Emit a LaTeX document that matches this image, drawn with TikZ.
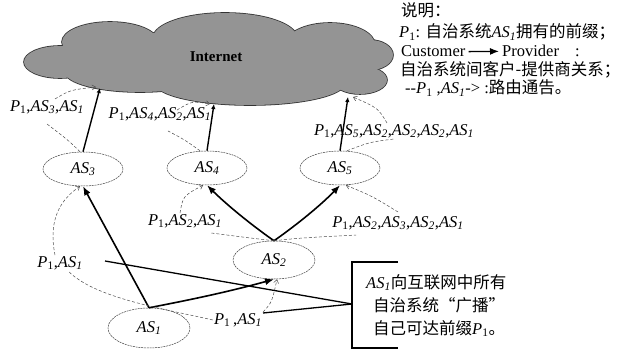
\documentclass[tikz,border=0pt]{standalone}
\usepackage{fontspec}
\setmainfont{Liberation Serif}
\newfontfamily\cjk{Noto Sans CJK SC}
\usetikzlibrary{arrows.meta,shapes.geometric}
\newcommand{\ASx}[1]{\textit{AS}\textsubscript{\textit{#1}}}
\newcommand{\Px}{\textit{P}\textsubscript{1}}
\begin{document}
\begin{tikzpicture}[x=1pt,y=-1pt,
  font=\fontsize{16.5}{19}\selectfont,
  asnode/.style={ellipse, draw=black!75, dash pattern=on 2pt off 0.8pt, line width=0.5pt,
    fill=white, inner sep=0pt, minimum width=80pt, minimum height=34pt},
  rlabel/.style={inner sep=1pt},
  cp/.style={line width=1.6pt, -{Latex[length=9pt,width=7pt]}},
  upar/.style={line width=1.4pt, -{Latex[length=5pt,width=4.5pt]}},
  annp/.style={black!70, line width=0.5pt, dash pattern=on 3pt off 2pt},
  ann/.style={annp, -{Straight Barb[length=3.5pt,width=5pt]}},
  lead/.style={line width=1.3pt},
  legtext/.style={anchor=base west, inner sep=0pt}
]
\useasboundingbox (0,0) rectangle (626,350);

% Internet cloud: union of ellipses, outlined then filled
\def\cloudparts{60/62/36/16, 110/42/48/20, 225/38/72/25, 330/45/45/22, 370/55/23/15,
  360/80/27/14, 250/83/95/22, 140/72/75/20, 220/60/150/30}
\foreach \cx/\cy/\rx/\ry in \cloudparts
  \draw[line width=1.6pt, black!80] (\cx,\cy) ellipse [x radius=\rx pt, y radius=\ry pt];
\foreach \cx/\cy/\rx/\ry in \cloudparts
  \fill[black!42] (\cx,\cy) ellipse [x radius=\rx pt, y radius=\ry pt];
\node[font=\bfseries\fontsize{15}{18}\selectfont] (inet) at (216,57) {Internet};

% cloud attach points
\coordinate (c3) at (100,88);
\coordinate (c4) at (214,104);
\coordinate (c5) at (348,97);
\coordinate (d3) at (96,87);
\coordinate (d4) at (210,104);
\coordinate (d5) at (353,97);

% autonomous systems
\node[asnode] (as3) at (83,169) {\ASx{3}};
\node[asnode] (as4) at (207,168) {\ASx{4}};
\node[asnode] (as5) at (340,168) {\ASx{5}};
\node[asnode, minimum width=82pt, minimum height=38pt] (as2) at (274,260) {\ASx{2}};
\node[asnode, minimum width=82pt, minimum height=40pt] (as1) at (149,328) {\ASx{1}};

% route labels
\node[rlabel] (l31) at (47,107) {\Px,\ASx{3},\ASx{1}};
\node[rlabel] (l421) at (160,114) {\Px,\ASx{4},\ASx{2},\ASx{1}};
\node[rlabel] (l5) at (394,131) {\Px,\ASx{5},\ASx{2},\ASx{2},\ASx{2},\ASx{1}};
\node[rlabel] (l21) at (185,221) {\Px,\ASx{2},\ASx{1}};
\node[rlabel] (l2321) at (398,223) {\Px,\ASx{2},\ASx{3},\ASx{2},\ASx{1}};
\node[rlabel] (lleft) at (60,263) {\Px,\ASx{1}};
\node[rlabel] (lbot) at (238,320) {\Px\,,\ASx{1}};

% customer -> provider links
\draw[cp] (as1.north) -- (as3.south);
\draw[cp] (as1.north) .. controls (200,298) and (235,290) .. (as2.south);
\draw[cp] (as2.north) .. controls (250,224) and (226,204) .. (as4.south);
\draw[cp] (as2.north) .. controls (298,224) and (322,204) .. (as5.south);
\draw[upar] (as3.north) -- (c3);
\draw[upar] (as4.north) -- (c4);
\draw[upar] (as5.north) -- (c5);

% route announcements
\draw[annp] ([xshift=-3pt]as3.north) .. controls (68,140) .. ([yshift=-9pt]l31.south);
\draw[ann] ([xshift=8pt]l31.north) .. controls (70,90) .. (d3);
\draw[annp] ([xshift=-7pt]as4.north) .. controls (185,140) .. ([xshift=8pt,yshift=-9pt]l421.south);
\draw[ann] ([xshift=17pt,yshift=-4pt]l421.north) .. controls (192,101) .. (d4);
\draw[annp] ([xshift=7pt]as5.north) .. controls (370,142) .. (l5.south);
\draw[ann] ([xshift=-7pt]l5.north) .. controls (378,108) .. (d5);
\draw[annp] (as2.north) .. controls (250,238) .. ([xshift=26pt,yshift=-4pt]l21.south);
\draw[ann] ([xshift=-5pt]l21.north) .. controls (183,196) .. ([xshift=-4pt]as4.south);
\draw[annp] (as2.north) .. controls (300,238) .. ([xshift=-42pt,yshift=-4pt]l2321.south);
\draw[ann] ([yshift=3pt]l2321.north) .. controls (372,196) .. ([xshift=6pt]as5.south);
\draw[annp] (lbot.west) .. controls (160,308) and (95,298) .. ([xshift=8pt]lleft.south);
\draw[ann] ([xshift=-5pt]lleft.north) .. controls (48,220) and (60,200) .. ([xshift=-3pt]as3.south);
\draw[ann] (lbot.north east) .. controls (272,302) .. ([xshift=3pt]as2.south);

% callout
\coordinate (bx) at (352,304);
\coordinate (p1) at (105,261);
\coordinate (p2) at (263,313);
\draw[lead] (p1) -- (bx);
\draw[lead] (p2) -- (bx);
\draw[lead] (398,262) -- (352,262) -- (352,348) -- (398,348);
\node[legtext] (n1) at (366,288) {\ASx{1}{\cjk 向互联网中所有}};
\node[legtext] (n2) at (373,311) {{\cjk 自治系统“广播”}};
\node[legtext] (n3) at (373,334) {{\cjk 自己可达前缀}\Px{\cjk 。}};

% legend
\node[legtext] (leg1) at (401,17) {{\cjk 说明：}};
\node[legtext] (leg2) at (399,38) {\Px: {\cjk 自治系统}\ASx{1}{\cjk 拥有的前缀；}};
\node[legtext] (leg3a) at (401,57) {Customer};
\node[legtext] (leg3b) at (502,57) {Provider};
\node[legtext] (leg3c) at (575,57) {:};
\draw[line width=1.3pt, -{Latex[length=9pt,width=7pt]}] ([xshift=3pt]leg3a.east) -- ([xshift=-3pt]leg3b.west);
\node[legtext] (leg4) at (400,76) {{\cjk 自治系统间客户-提供商关系；}};
\node[legtext] (leg5) at (405,94) {{-}{-}\Px{} ,\ASx{1}{-}> :{\cjk 路由通告。}};
\end{tikzpicture}
\end{document}
